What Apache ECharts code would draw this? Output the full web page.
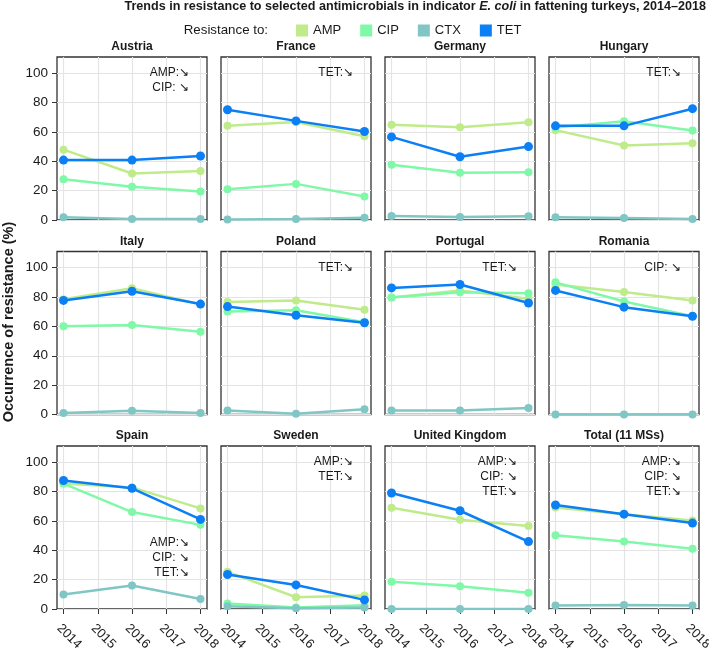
<!DOCTYPE html>
<html>
<head>
<meta charset="utf-8">
<script src="https://cdn.jsdelivr.net/npm/echarts@6/dist/echarts.min.js"></script>
<style>
html,body{margin:0;padding:0;background:#fff;}
#chart{width:709px;height:648px;}
</style>
</head>
<body>
<div id="chart"></div>
<script>
// ---- data ----
const years = [2014, 2016, 2018];
const xTicks = [2014, 2015, 2016, 2017, 2018];
const yTicks = [0, 20, 40, 60, 80, 100];
const countries = ['Austria','France','Germany','Hungary','Italy','Poland','Portugal','Romania','Spain','Sweden','United Kingdom','Total (11 MSs)'];
const drugs = ['AMP','CIP','CTX','TET'];
const AMP = [[47.9,31.7,33.3],[64.1,66.8,57.0],[64.8,63.2,66.6],[61.2,50.7,52.3],[78.5,86.0,75.0],[76.6,77.7,71.3],[79.7,84.5,78.8],[88.5,83.4,77.7],[85.4,82.8,68.5],[25.3,8.0,9.2],[69.0,60.8,56.6],[69.2,64.5,60.3]];
const CIP = [[27.8,22.6,19.4],[21.0,24.6,16.0],[37.7,32.2,32.6],[63.0,67.3,60.9],[60.1,61.0,56.4],[70.1,71.0,62.8],[79.7,83.2,82.5],[90.0,77.0,67.0],[85.4,66.0,57.3],[3.7,1.0,2.5],[18.5,15.5,11.0],[50.3,45.9,41.1]];
const CTX = [[1.8,0.7,0.7],[0.3,0.7,1.6],[2.7,2.1,2.5],[1.8,1.4,0.7],[1.0,2.5,1.0],[2.7,0.5,3.6],[2.7,2.7,4.4],[0,0,0],[9.8,16.0,6.8],[1.8,0.5,1.0],[0,0,0],[2.3,2.7,2.3]];
const TET = [[40.8,40.8,43.6],[75.1,67.5,60.3],[56.6,43.1,50.0],[64.1,64.1,75.8],[77.7,83.9,75.2],[73.5,67.6,62.5],[86.2,88.5,75.9],[84.5,73.1,66.9],[87.5,82.2,61.0],[23.5,16.4,6.2],[79.0,66.9,45.9],[70.8,64.6,58.5]];
const trendNotes = [['AMP:↘','CIP: ↘'],['TET:↘'],[],['TET:↘'],[],['TET:↘'],['TET:↘'],['CIP: ↘'],['AMP:↘','CIP: ↘','TET:↘'],['AMP:↘','TET:↘'],['AMP:↘','CIP: ↘','TET:↘'],['AMP:↘','CIP: ↘','TET:↘']];
const notesLow = ['Spain'];

// ---- styling / layout ----
const values = {AMP, CIP, CTX, TET};
const colors = {AMP:'#bfeb8a', CIP:'#7ff9a7', CTX:'#80c6c4', TET:'#0b7ff4'};
const FONT = 'Liberation Sans, Arial, Helvetica, sans-serif';
const colLeft = [57, 221, 385, 549];
const rowTop = [57, 251.5, 446];
const W = 150, H = 163;

const grids = [], xAxes = [], yAxes = [], series = [], graphics = [];
countries.forEach((c, p) => {
  const r = Math.floor(p / 4), col = p % 4;
  const left = colLeft[col], top = rowTop[r];
  grids.push({left, top, width: W, height: H, show: true, borderColor: '#333', borderWidth: 1.3,
    backgroundColor: 'transparent', containLabel: false, outerBoundsMode: 'none'});
  const bottomRow = r === 2, leftCol = col === 0;
  xAxes.push({
    type: 'value', gridIndex: p, min: 2013.81, max: 2018.19,
    axisLine: {show: false},
    axisTick: {show: bottomRow, customValues: xTicks, length: 5, lineStyle: {color: '#333'}},
    axisLabel: {show: bottomRow, customValues: xTicks, rotate: -45, margin: 12.5, align: 'left', verticalAlign: 'top',
      fontSize: 13, color: '#1a1a1a', fontFamily: FONT, formatter: v => String(v)},
    splitLine: {show: true, lineStyle: {color: '#e4e4e4', width: 1.2}}
  });
  yAxes.push({
    type: 'value', gridIndex: p, min: 0, max: 111,
    axisLine: {show: false},
    axisTick: {show: leftCol, customValues: yTicks, length: 5, lineStyle: {color: '#333'}},
    axisLabel: {show: leftCol, customValues: yTicks, margin: 9, fontSize: 13.5, color: '#1a1a1a', fontFamily: FONT},
    splitLine: {show: true, lineStyle: {color: '#e4e4e4', width: 1.2}}
  });
  drugs.forEach((d, k) => {
    series.push({
      type: 'line', name: d, xAxisIndex: p, yAxisIndex: p,
      data: years.map((y, i) => [y, values[d][p][i]]),
      symbol: 'circle', symbolSize: d === 'TET' ? 9 : 8,
      lineStyle: {width: 2.5, color: colors[d]},
      itemStyle: {color: colors[d]},
      z: 2 + k, silent: true, animation: false
    });
  });
  graphics.push({type: 'text', x: left + W / 2, y: top - 10,
    style: {text: c, font: 'bold 12px ' + FONT, fill: '#1a1a1a', align: 'center', verticalAlign: 'middle'}});
  if (trendNotes[p].length) {
    const low = notesLow.includes(c);
    graphics.push({type: 'text', x: left + 132, y: top + (low ? 89.5 : 8.5), z: 100,
      style: {text: trendNotes[p].join('\n'), font: '12px ' + FONT, lineHeight: 15, fill: '#1a1a1a', align: 'right', verticalAlign: 'top'}});
  }
});

graphics.push({type: 'text', x: 706, y: 7,
  style: {
    text: '{b|Trends in resistance to selected antimicrobials in indicator }{i|E. coli}{b| in fattening turkeys, 2014–2018}',
    align: 'right', verticalAlign: 'middle',
    rich: {
      b: {fontFamily: FONT, fontWeight: 'bold', fontSize: 12.6, fill: '#1a1a1a'},
      i: {fontFamily: FONT, fontWeight: 'bold', fontStyle: 'italic', fontSize: 12.6, fill: '#1a1a1a'}
    }
  }});
graphics.push({type: 'text', x: 268, y: 30,
  style: {text: 'Resistance to:', font: '13.3px ' + FONT, fill: '#1a1a1a', align: 'right', verticalAlign: 'middle'}});
graphics.push({type: 'text', x: 9, y: 322, rotation: Math.PI / 2,
  style: {text: 'Occurrence of resistance (%)', font: 'bold 14.5px ' + FONT, fill: '#1a1a1a', align: 'center', verticalAlign: 'middle'}});

const chart = echarts.init(document.getElementById('chart'), null, {renderer: 'canvas'});
chart.setOption({
  animation: false,
  backgroundColor: '#fff',
  legend: {
    data: drugs, left: 291, top: 19, padding: 5, icon: 'rect', itemWidth: 12, itemHeight: 12, itemGap: 19,
    selectedMode: false,
    textStyle: {fontSize: 13, fontFamily: FONT, color: '#1a1a1a'},
    itemStyle: {borderWidth: 0}
  },
  grid: grids, xAxis: xAxes, yAxis: yAxes, series,
  graphic: graphics
});
</script>
</body>
</html>
